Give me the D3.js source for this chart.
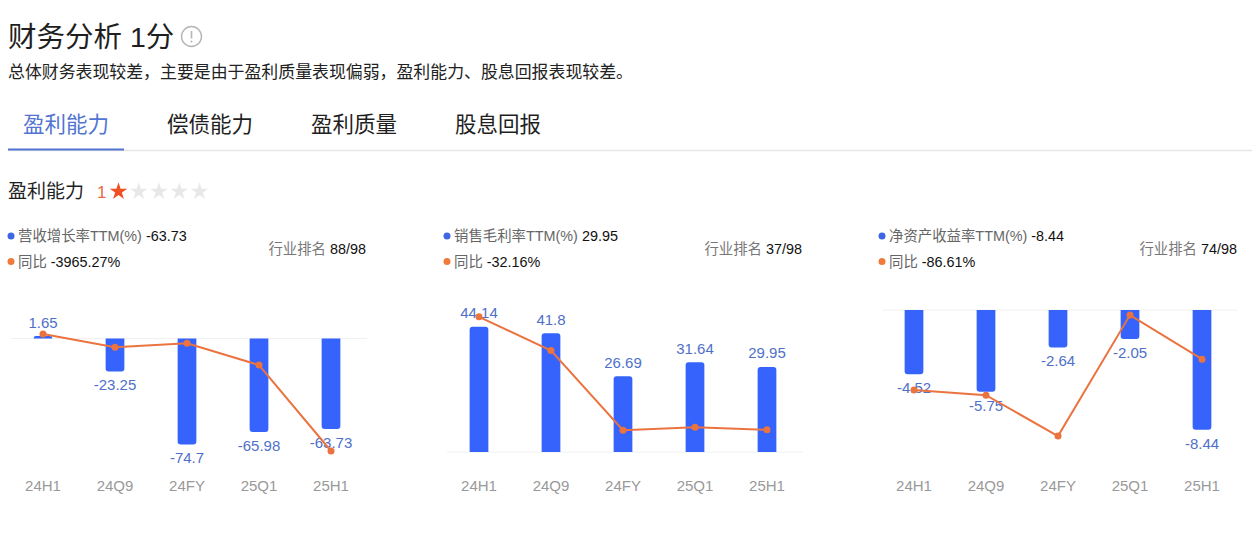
<!DOCTYPE html>
<html>
<head>
<meta charset="utf-8">
<script src="https://cdn.jsdelivr.net/npm/d3@7"></script>
<style>
    body { margin: 0; background: #fff; }
    svg { display: block; }
</style>
</head>
<body>
<div id="chart"></div>
<script>
// data
const periods = ['24H1', '24Q9', '24FY', '25Q1', '25H1'];

const revenue_growth = [1.65, -23.25, -74.7, -65.98, -63.73];
const revenue_growth_yoy = [155, -313, -173, -937, -3965.27];

const gross_margin = [44.14, 41.8, 26.69, 31.64, 29.95];
const gross_margin_yoy = [7.6, -4.3, -32.3, -31.3, -32.16];

const roe = [-4.52, -5.75, -2.64, -2.05, -8.44];
const roe_yoy = [-141, -150, -222, -9, -86.61];

const metric_names = ['营收增长率TTM(%)', '销售毛利率TTM(%)', '净资产收益率TTM(%)'];
const industry_rank = ['88/98', '37/98', '74/98'];
const tab_names = ['盈利能力', '偿债能力', '盈利质量', '股息回报'];

const font_family = "'Liberation Sans', Arial, 'Noto Sans CJK SC', sans-serif";
const bar_color = '#3563fb';
const line_color = '#eb7340';
const label_color = '#4f70c9';

const panels = [
    {x0: 7, name: metric_names[0], bars: revenue_growth, yoy: revenue_growth_yoy, bar_domain: [-80, 20], yoy_domain: [-4000, 1000], rank: industry_rank[0]},
    {x0: 443, name: metric_names[1], bars: gross_margin, yoy: gross_margin_yoy, bar_domain: [0, 50], yoy_domain: [-40, 10], rank: industry_rank[1]},
    {x0: 878, name: metric_names[2], bars: roe, yoy: roe_yoy, bar_domain: [-10, 0], yoy_domain: [-250, 0], rank: industry_rank[2]}
];

let svg = d3.select('#chart').append('svg')
    .attr('width', 1252)
    .attr('height', 534)
    .style('font-family', font_family);

draw_header(svg);
panels.forEach(function (p) { draw_panel(svg, p); });

function draw_header(svg) {
    svg.append('text')
        .attr('x', 8).attr('y', 37)
        .attr('dominant-baseline', 'central')
        .style('font-size', '28.5px')
        .style('fill', '#1f1f1f')
        .text('财务分析 1分');

    let icon = svg.append('g').attr('transform', 'translate(191.5,36.5)');
    icon.append('circle').attr('r', 10).style('fill', 'none').style('stroke', '#b5b5b5').style('stroke-width', 1.4);
    icon.append('line').attr('x1', 0).attr('x2', 0).attr('y1', -5.5).attr('y2', 2).style('stroke', '#b5b5b5').style('stroke-width', 1.6);
    icon.append('circle').attr('cy', 5).attr('r', 1).style('fill', '#b5b5b5');

    svg.append('text')
        .attr('x', 8).attr('y', 72)
        .attr('dominant-baseline', 'central')
        .style('font-size', '16.9px')
        .style('fill', '#222')
        .text('总体财务表现较差，主要是由于盈利质量表现偏弱，盈利能力、股息回报表现较差。');

    // tabs
    let tab_x = d3.scalePoint().domain(tab_names).range([23, 455]);
    svg.selectAll('.tab').data(tab_names).enter().append('text')
        .attr('class', 'tab')
        .attr('x', d => tab_x(d))
        .attr('y', 125)
        .attr('dominant-baseline', 'central')
        .style('font-size', '21.5px')
        .style('fill', (d, i) => i === 0 ? '#5274d2' : '#1f1f1f')
        .text(d => d);

    svg.append('line').attr('x1', 8).attr('x2', 1252).attr('y1', 150.5).attr('y2', 150.5)
        .style('stroke', '#e6e6e6').style('stroke-width', 1.5);
    svg.append('line').attr('x1', 8).attr('x2', 124).attr('y1', 149.5).attr('y2', 149.5)
        .style('stroke', '#5274d2').style('stroke-width', 2);

    // section title with stars
    svg.append('text')
        .attr('x', 8).attr('y', 191.5)
        .attr('dominant-baseline', 'central')
        .style('font-size', '19px')
        .style('fill', '#1f1f1f')
        .text('盈利能力');
    svg.append('text')
        .attr('x', 97).attr('y', 192)
        .attr('dominant-baseline', 'central')
        .style('font-size', '17px')
        .style('fill', '#ea6a3d')
        .text('1');

    let star = d3.symbol().type(d3.symbolStar).size(95);
    let star_x = d3.scaleLinear().domain([0, 4]).range([118.5, 199.5]);
    svg.selectAll('.star').data([1, 0, 0, 0, 0]).enter().append('path')
        .attr('class', 'star')
        .attr('d', star)
        .attr('transform', (d, i) => 'translate(' + star_x(i) + ',191.5)')
        .style('fill', d => d ? '#f04e25' : '#e8e8e8');
}

function bar_path(x, y0, y1, w, r) {
    // y0: zero side, y1: value end; only the value end is rounded
    let h = Math.abs(y1 - y0);
    r = Math.min(r, h, w / 2);
    let s = y1 < y0 ? 1 : -1;
    return 'M' + x + ',' + y0 +
        'L' + x + ',' + (y1 + s * r) +
        'Q' + x + ',' + y1 + ' ' + (x + r) + ',' + y1 +
        'L' + (x + w - r) + ',' + y1 +
        'Q' + (x + w) + ',' + y1 + ' ' + (x + w) + ',' + (y1 + s * r) +
        'L' + (x + w) + ',' + y0 + 'Z';
}

function draw_panel(svg, p) {
    let g = svg.append('g');
    let plot_top = 310, plot_bottom = 452, plot_width = 360;

    let x = d3.scaleBand().domain(periods)
        .range([p.x0, p.x0 + plot_width])
        .paddingInner(0.74).paddingOuter(0.37);
    let y = d3.scaleLinear().domain(p.bar_domain).range([plot_bottom, plot_top]);
    let y2 = d3.scaleLinear().domain(p.yoy_domain).range([plot_bottom, plot_top]);

    // legend
    let legend_rows = [
        {color: '#3f66e3', label: p.name, value: String(p.bars[p.bars.length - 1]), y: 236},
        {color: '#ef7a3c', label: '同比', value: String(p.yoy[p.yoy.length - 1]) + '%', y: 261.5}
    ];
    legend_rows.forEach(function (row) {
        g.append('circle').attr('cx', p.x0 + 4).attr('cy', row.y).attr('r', 3.5).style('fill', row.color);
        let t = g.append('text')
            .attr('x', p.x0 + 11).attr('y', row.y)
            .attr('dominant-baseline', 'central')
            .style('font-size', '14.4px');
        t.append('tspan').style('fill', '#666').text(row.label);
        t.append('tspan').style('fill', '#111').text(' ' + row.value);
    });

    let rank = g.append('text')
        .attr('x', p.x0 + 359).attr('y', 249)
        .attr('text-anchor', 'end')
        .attr('dominant-baseline', 'central')
        .style('font-size', '14.4px');
    rank.append('tspan').style('fill', '#777').text('行业排名');
    rank.append('tspan').style('fill', '#111').text(' ' + p.rank);

    // zero line
    g.append('line')
        .attr('x1', p.x0 + 4).attr('x2', p.x0 + plot_width)
        .attr('y1', y(0)).attr('y2', y(0))
        .style('stroke', '#f0f0f0').style('stroke-width', 1);

    // x axis labels
    let axis_g = g.append('g')
        .attr('transform', 'translate(0,486)')
        .call(d3.axisBottom(x).tickSize(0).tickPadding(0));
    axis_g.select('.domain').remove();
    axis_g.selectAll('text')
        .attr('dy', '0.35em')
        .style('font-size', '15px')
        .style('font-family', font_family)
        .style('fill', '#999');

    // bars
    g.selectAll('.bar').data(p.bars).enter().append('path')
        .attr('class', 'bar')
        .attr('d', (d, i) => bar_path(x(periods[i]), y(0), y(d), x.bandwidth(), 3))
        .style('fill', bar_color);

    // bar labels
    g.selectAll('.bar-label').data(p.bars).enter().append('text')
        .attr('class', 'bar-label')
        .attr('x', (d, i) => x(periods[i]) + x.bandwidth() / 2)
        .attr('y', d => d >= 0 ? y(d) - 14 : y(d) + 13.5)
        .attr('text-anchor', 'middle')
        .attr('dominant-baseline', 'central')
        .style('font-size', '15px')
        .style('fill', label_color)
        .text(d => String(d));

    // yoy line
    let line = d3.line()
        .x((d, i) => x(periods[i]) + x.bandwidth() / 2)
        .y(d => y2(d));
    g.append('path')
        .datum(p.yoy)
        .attr('d', line)
        .style('fill', 'none')
        .style('stroke', line_color)
        .style('stroke-width', 2);
    g.selectAll('.dot').data(p.yoy).enter().append('circle')
        .attr('class', 'dot')
        .attr('cx', (d, i) => x(periods[i]) + x.bandwidth() / 2)
        .attr('cy', d => d ? y2(d) : y2(d))
        .attr('r', 3.5)
        .style('fill', line_color);
}
</script>
</body>
</html>
